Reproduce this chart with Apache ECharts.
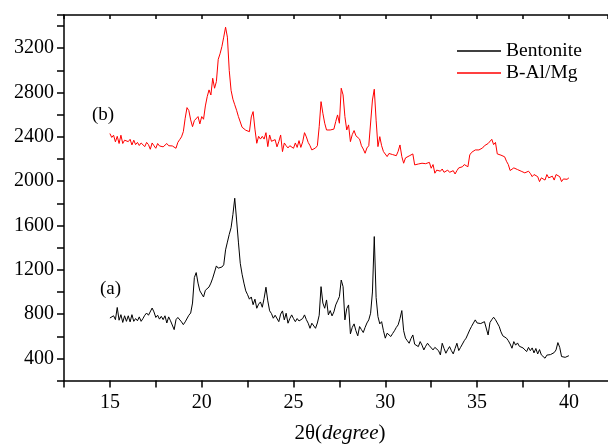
<!DOCTYPE html>
<html lang="en">
	<head>
		<meta charset="UTF-8">
		<title>XRD</title>
		<script src="https://cdn.jsdelivr.net/npm/echarts@6/dist/echarts.min.js"></script>
		<style>
			html, body { margin: 0; padding: 0; background: #fff; }
			#main { width: 608px; height: 444px; }
		</style>
	</head>

	<body>
		<div id="main"></div>
	</body>

	<script>
		// scan: 15.0 .. 40.0 deg, step 0.1
		const scanStart = 15.0;
		const scanStep = 0.1;

		const seriesNames = ["Bentonite", "B-Al/Mg"];
		const yTickLabels = [400, 800, 1200, 1600, 2000, 2400, 2800, 3200];
		const xTickLabels = [15, 20, 25, 30, 35, 40];

		// (a) Bentonite
		const bentonite = [
			765, 755, 785, 750, 860, 745, 795, 725, 785, 735,
			785, 730, 795, 735, 760, 740, 775, 735, 760, 790,
			810, 790, 775, 855, 820, 770, 790, 755, 780, 750,
			785, 720, 775, 740, 745, 660, 750, 770, 755, 730,
			705, 730, 745, 790, 810, 900, 1130, 1175, 1080, 1010,
			995, 955, 1015, 1030, 1045, 1080, 1125, 1180, 1235, 1215,
			1205, 1225, 1245, 1380, 1450, 1520, 1580, 1700, 1846, 1650,
			1450, 1259, 1160, 1080, 1010, 975, 935, 955, 885, 935,
			853, 890, 910, 862, 943, 1043, 920, 830, 805, 763,
			790, 778, 732, 800, 829, 748, 808, 718, 760, 793,
			760, 732, 760, 738, 732, 760, 793, 750, 718, 672,
			718, 700, 672, 720, 790, 1048, 900, 853, 928, 793,
			832, 784, 820, 883, 920, 958, 1108, 1048, 748, 850,
			883, 622, 680, 712, 650, 604, 688, 660, 634, 680,
			720, 748, 808, 1000, 1500, 950, 778, 712, 732, 650,
			583, 628, 610, 598, 625, 650, 680, 703, 760, 832,
			650, 583, 560, 537, 580, 612, 528, 520, 507, 552,
			520, 477, 510, 537, 515, 507, 477, 500, 505, 470,
			432, 537, 490, 447, 480, 507, 470, 441, 490, 537,
			471, 500, 530, 560, 583, 620, 658, 690, 720, 748,
			720, 703, 715, 725, 732, 740, 612, 724, 750, 772,
			750, 720, 690, 640, 604, 595, 583, 560, 530, 492,
			552, 520, 540, 510, 522, 495, 510, 462, 500, 470,
			495, 450, 490, 440, 480, 432, 450, 402, 430, 440,
			435, 450, 453, 477, 543, 500, 417, 402, 410, 423,
			425
		];

		// (b) B-Al/Mg
		const bAlMg = [
			2430, 2395, 2415, 2355, 2405, 2340, 2415, 2340, 2370, 2380,
			2357, 2378, 2327, 2370, 2330, 2350, 2322, 2345, 2335, 2312,
			2350, 2330, 2288, 2345, 2320, 2297, 2340, 2318, 2335, 2310,
			2297, 2340, 2320, 2330, 2318, 2325, 2297, 2350, 2375, 2400,
			2447, 2568, 2664, 2637, 2553, 2492, 2547, 2560, 2583, 2517,
			2583, 2559, 2679, 2763, 2824, 2778, 2929, 2839, 2899, 3100,
			3150, 3215, 3300, 3390, 3300, 3000, 2820, 2740, 2690, 2640,
			2583, 2590, 2487, 2490, 2460, 2475, 2447, 2580, 2628, 2470,
			2342, 2405, 2380, 2405, 2380, 2438, 2312, 2417, 2360, 2345,
			2375, 2310, 2357, 2417, 2267, 2345, 2320, 2300, 2320, 2310,
			2297, 2345, 2305, 2366, 2305, 2355, 2438, 2400, 2350, 2320,
			2282, 2290, 2300, 2320, 2492, 2718, 2613, 2523, 2462, 2470,
			2462, 2480, 2470, 2538, 2598, 2523, 2839, 2779, 2583, 2462,
			2508, 2357, 2420, 2457, 2410, 2400, 2380, 2320, 2290, 2252,
			2300, 2320, 2327, 2733, 2830, 2550, 2312, 2402, 2320, 2267,
			2250, 2222, 2250, 2260, 2240, 2255, 2230, 2270, 2327, 2222,
			2162, 2210, 2220, 2228, 2236, 2246, 2147, 2150, 2155, 2160,
			2162, 2160, 2158, 2155, 2170, 2117, 2150, 2072, 2100, 2085,
			2090, 2110, 2080, 2095, 2100, 2080, 2090, 2095, 2065, 2095,
			2120, 2110, 2130, 2150, 2168, 2130, 2237, 2260, 2275, 2282,
			2285, 2282, 2290, 2300, 2320, 2330, 2340, 2357, 2378, 2330,
			2350, 2246, 2240, 2235, 2250, 2220, 2180, 2150, 2096, 2110,
			2120, 2115, 2105, 2096, 2090, 2085, 2075, 2065, 2090, 2070,
			2041, 2060, 2055, 2041, 1996, 2030, 2017, 2010, 2060, 2030,
			2025, 2045, 2010, 2060, 2077, 2041, 1996, 2020, 2010, 2017,
			2030
		];

		function toPairs(values) {
			return values.map((v, i) => [+(scanStart + i * scanStep).toFixed(1), v]);
		}

		const font = "'Liberation Serif', 'Times New Roman', serif";

		let option = {
			animation: false,
			backgroundColor: '#fff',
			textStyle: { fontFamily: font, color: '#000' },
			grid: { left: 64, right: 0, top: 15, bottom: 63.4, outerBoundsMode: 'none', containLabel: false },
			legend: {
				orient: 'vertical',
				left: 457,
				top: 41,
				padding: 0,
				itemWidth: 44,
				itemHeight: 1.5,
				itemGap: 2,
				icon: 'rect',
				textStyle: { fontFamily: font, fontSize: 19.5, color: '#000' },
				data: seriesNames
			},
			xAxis: [{
				type: 'value',
				position: 'bottom',
				min: 12.5,
				max: 42.13,
				interval: 2.5,
				axisLine: { lineStyle: { color: '#000', width: 1.5 } },
				axisTick: { inside: false, length: 7, lineStyle: { color: '#000', width: 1.5 } },
				axisLabel: {
					margin: 12,
					fontFamily: font,
					fontSize: 20,
					color: '#000',
					showMaxLabel: false,
					formatter: (v) => xTickLabels.indexOf(v) >= 0 ? String(v) : ''
				},
				splitLine: { show: false },
				name: '2θ({i|degree})',
				nameLocation: 'middle',
				nameGap: 42,
				nameTextStyle: {
					fontFamily: font,
					fontSize: 21,
					color: '#000',
					padding: [0, 0, 0, 8],
					rich: { i: { fontFamily: font, fontSize: 21, fontStyle: 'italic', color: '#000' } }
				}
			}, {
				type: 'value',
				position: 'top',
				min: 12.5,
				max: 42.13,
				interval: 2.5,
				axisLine: { lineStyle: { color: '#000', width: 1.5 } },
				axisTick: { inside: true, length: 4, lineStyle: { color: '#000', width: 1.5 } },
				axisLabel: { show: false },
				splitLine: { show: false }
			}],
			yAxis: {
				type: 'value',
				min: 200,
				max: 3500,
				interval: 200,
				axisLine: { show: true, lineStyle: { color: '#000', width: 1.5 } },
				axisTick: { show: true, length: 7, lineStyle: { color: '#000', width: 1.5 } },
				axisLabel: {
					margin: 10,
					fontFamily: font,
					fontSize: 20,
					color: '#000',
					formatter: (v) => yTickLabels.indexOf(v) >= 0 ? String(v) : ''
				},
				splitLine: { show: false }
			},
			graphic: [
				{ type: 'text', left: 92, top: 106, style: { text: '(b)', font: "19px 'Liberation Serif'", fill: '#000' } },
				{ type: 'text', left: 100, top: 280, style: { text: '(a)', font: "19px 'Liberation Serif'", fill: '#000' } }
			],
			series: [{
				name: seriesNames[0],
				type: 'line',
				symbol: 'none',
				color: '#000000',
				lineStyle: { width: 1, color: '#000000' },
				data: toPairs(bentonite)
			}, {
				name: seriesNames[1],
				type: 'line',
				symbol: 'none',
				color: '#ff0000',
				lineStyle: { width: 1, color: '#ff0000' },
				data: toPairs(bAlMg)
			}]
		};

		let chart = echarts.init(document.getElementById('main'));
		chart.setOption(option);
	</script>
</html>
